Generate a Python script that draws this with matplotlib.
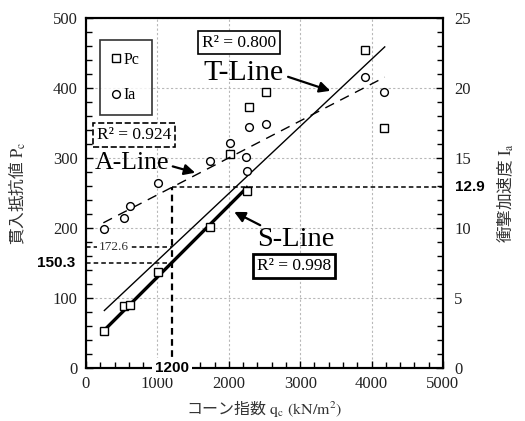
import matplotlib
matplotlib.use("Agg")
import matplotlib.pyplot as plt
from matplotlib.ticker import MultipleLocator
from matplotlib.lines import Line2D
import numpy as np

plt.rcParams['font.family'] = ['Liberation Serif', 'Noto Sans CJK JP', 'DejaVu Sans']
plt.rcParams['mathtext.fontset'] = 'stix'

# ---- data ----
qc_pc = [257, 533, 617, 1010, 1739, 2010, 2253, 2277, 2520, 3913, 4180]
pc_vals = [53, 88, 90, 137, 202, 306, 253, 373, 395, 455, 343]
qc_ia = [257, 533, 617, 1015, 1735, 2010, 2244, 2253, 2277, 2520, 3913, 4180]
ia_vals = [9.9, 10.7, 11.6, 13.2, 14.8, 16.1, 15.1, 14.1, 17.2, 17.4, 20.8, 19.7]

# regression lines: slope, intercept, x-range
t_line = (0.0959, 57.5, [257, 4184])
s_line = (0.1020, 27.9, [257, 2253])
a_line = (0.00264, 9.73, [243, 4184])

r2_t, r2_a, r2_s = "0.800", "0.924", "0.998"
qc_ref = 1200
pc_t_ref = 172.6
pc_s_ref = 150.3
ia_ref = 12.9

fig = plt.figure(figsize=(5.25, 4.21), dpi=100)
ax = fig.add_axes([0.1638, 0.1259, 0.68, 0.8313])
ax2 = ax.twinx()

ax.set_xlim(0, 5000)
ax.set_ylim(0, 500)
ax2.set_ylim(0, 25)

ax.xaxis.set_major_locator(MultipleLocator(1000))
ax.xaxis.set_minor_locator(MultipleLocator(200))
ax.yaxis.set_major_locator(MultipleLocator(100))
ax.yaxis.set_minor_locator(MultipleLocator(20))
ax2.yaxis.set_major_locator(MultipleLocator(5))
ax2.yaxis.set_minor_locator(MultipleLocator(1))

tc = '#222222'
for a in (ax, ax2):
    a.tick_params(which='both', direction='in', width=1, labelsize=12, labelcolor=tc)
    a.tick_params(which='major', length=5, pad=6)
    a.tick_params(which='minor', length=4)
    for s in a.spines.values():
        s.set_linewidth(1.5)
ax.tick_params(which='both', top=False, right=False)
ax2.tick_params(which='major', pad=8)

ax.grid(True, which='major', color='#b8b8b8', linestyle=(0, (2, 2)), linewidth=0.8)
ax.set_axisbelow(True)

ms = 5.6
# scatter
ax.plot(qc_pc, pc_vals, 's', mfc='white', mec='black', ms=ms, mew=1.0, zorder=4)
ax2.plot(qc_ia, ia_vals, 'o', mfc='white', mec='black', ms=ms, mew=1.0, zorder=4)

# regression lines
xt = np.array(t_line[2])
ax.plot(xt, t_line[0] * xt + t_line[1], '-', color='black', lw=1.0, zorder=3)
xs = np.array(s_line[2])
ax.plot(xs, s_line[0] * xs + s_line[1], '-', color='black', lw=2.4, zorder=3)
xa = np.array(a_line[2])
ax2.plot(xa, a_line[0] * xa + a_line[1], color='black', lw=1.0, ls=(0, (7, 5)), zorder=3)

# guide lines
gls = (0, (3, 2))
ax.plot([0, qc_ref], [pc_t_ref, pc_t_ref], color='black', lw=1.1, ls=gls, zorder=2)
ax.plot([0, qc_ref], [pc_s_ref, pc_s_ref], color='black', lw=1.1, ls=gls, zorder=2)
ax2.plot([qc_ref, qc_ref], [0, ia_ref], color='black', lw=1.6, ls=gls, zorder=2)
ax2.plot([qc_ref, 5000], [ia_ref, ia_ref], color='black', lw=1.1, ls=gls, zorder=2)

# guide labels
ax.text(393, pc_t_ref, f"{pc_t_ref}", fontsize=9.5, color='#333333', ha='center', va='center',
        bbox=dict(boxstyle='square,pad=0.15', fc='white', ec='none'), zorder=5)
ax.annotate(f"{pc_s_ref}", xy=(0, pc_s_ref), xytext=(-8, 0), textcoords='offset points',
            ha='right', va='center', fontsize=11, fontweight='bold', family='Liberation Sans',
            annotation_clip=False)
ax2.annotate(f"{ia_ref}", xy=(5000, ia_ref), xytext=(9, 0), textcoords='offset points',
             ha='left', va='center', fontsize=11, fontweight='bold', family='Liberation Sans',
             annotation_clip=False)
ax2.text(qc_ref, 0, f"{qc_ref}", ha='center', va='center', fontsize=11, fontweight='bold',
         family='Liberation Sans', bbox=dict(boxstyle='square,pad=0.2', fc='white', ec='none'),
         zorder=10, clip_on=False)

# line labels
tr = ax.transData
ax2.text(2146, 465, f"R² = {r2_t}", transform=tr, fontsize=12.5, ha='center', va='center',
         bbox=dict(boxstyle='square,pad=0.22', fc='white', ec='black', lw=1.2), zorder=6)
ax2.text(673, 333, f"R² = {r2_a}", transform=tr, fontsize=12.5, ha='center', va='center',
         bbox=dict(boxstyle='square,pad=0.22', fc='white', ec='black', lw=1.2, ls='--'), zorder=6)
ax2.text(2917, 146, f"R² = {r2_s}", transform=tr, fontsize=12.5, ha='center', va='center',
         bbox=dict(boxstyle='square,pad=0.22', fc='white', ec='black', lw=2.0), zorder=6)

ax2.text(2205, 421, "T-Line", transform=tr, fontsize=21.5, ha='center', va='center', zorder=6)
ax2.text(645, 293, "A-Line", transform=tr, fontsize=18.5, ha='center', va='center', zorder=6)
ax2.text(2945, 183, "S-Line", transform=tr, fontsize=20.5, ha='center', va='center', zorder=6)

ap = dict(arrowstyle='-|>', color='black', lw=1.6, mutation_scale=16, shrinkA=0, shrinkB=0)
ax2.annotate("", xy=(3422, 396), xytext=(2830, 416), xycoords=tr, textcoords=tr, arrowprops=ap)
ax2.annotate("", xy=(1529, 279), xytext=(1215, 288), xycoords=tr, textcoords=tr, arrowprops=ap)
ax2.annotate("", xy=(2076, 223), xytext=(2440, 204), xycoords=tr, textcoords=tr, arrowprops=ap)

# legend
handles = [Line2D([], [], marker='s', ls='none', mfc='white', mec='black', ms=ms),
           Line2D([], [], marker='o', ls='none', mfc='white', mec='black', ms=ms)]
leg = ax2.legend(handles, ['Pc', 'Ia'], loc='upper left', bbox_to_anchor=(0.039, 0.937),
                 frameon=True, fancybox=False, edgecolor='black', fontsize=11.5,
                 handlelength=0.5, handletextpad=0.25, labelspacing=1.2, borderpad=0.75,
                 borderaxespad=0)
leg.get_frame().set_linewidth(1.2)
leg.set_zorder(8)

# axis labels
cjk = ['Noto Sans CJK JP']
ax.set_xlabel(r"コーン指数 $\mathrm{q_c\ (kN/m^2)}$", family=cjk, fontsize=11.5, color='#333333', labelpad=4)
ax.set_ylabel(r"貫入抵抗値 $\mathrm{P_c}$", family=cjk, fontsize=12, color='#333333', labelpad=18)
ax2.set_ylabel(r"衝撃加速度 $\mathrm{I_a}$", family=cjk, fontsize=12, color='#333333',
               rotation=90, labelpad=18)

fig.savefig("out.png", dpi=100)
